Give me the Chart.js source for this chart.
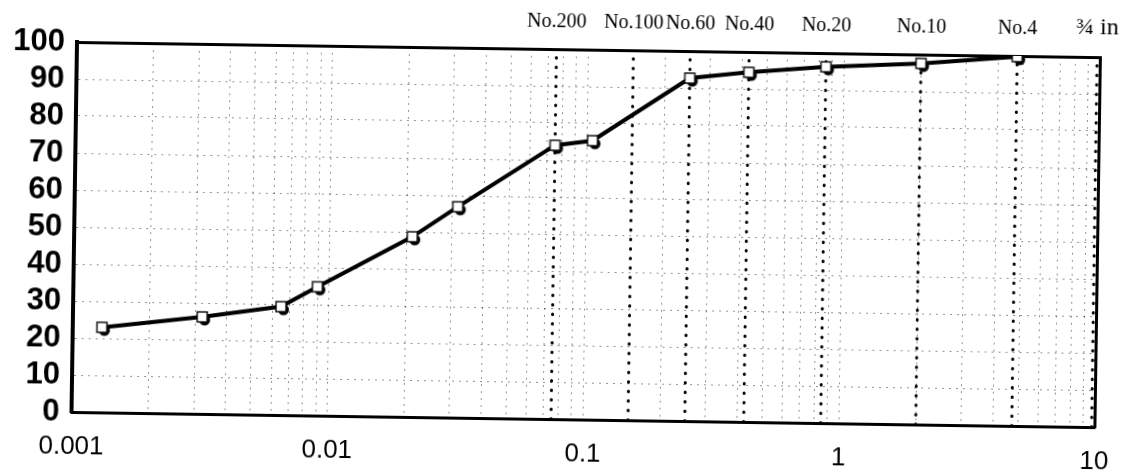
<!DOCTYPE html>
<html>
<head>
<meta charset="utf-8">
<script src="https://cdn.jsdelivr.net/npm/chart.js@4.4.0/dist/chart.umd.min.js"></script>
<style>
  html, body { margin: 0; padding: 0; background: #fff; overflow: hidden; }
  #wrap { width: 1136px; height: 472px; }
  /* the scanned sheet sits a little crooked */
  #grainChart { transform: rotate(0.85deg); transform-origin: 77px 42px; }
</style>
</head>
<body>
<div id="wrap"><canvas id="grainChart" width="1136" height="472"></canvas></div>
<script>
// grain size (mm) and percent finer
const grainSize = [0.0013, 0.0032, 0.0065, 0.0090, 0.021, 0.0315, 0.075, 0.105, 0.25, 0.425, 0.85, 2.0, 4.75];
const percentFiner = [23, 26.2, 29.3, 34.8, 48.7, 57, 74, 75.4, 92.7, 94.5, 96.3, 97.6, 99.8];

// sieve marks along the top
const sieveSizes = [0.075, 0.15, 0.25, 0.425, 0.85, 2.0, 4.75, 9.75];
const sieveNames = ['No.200', 'No.100', 'No.60', 'No.40', 'No.20', 'No.10', 'No.4', '\u00BE in'];

const decadeTicks = [0.001, 0.01, 0.1, 1, 10];
const decadeLabels = ['0.001', '0.01', '0.1', '1', '10'];
const percentTicks = [0, 10, 20, 30, 40, 50, 60, 70, 80, 90, 100];

// minor log grid 1..9 per decade
const gridTicks = [];
for (let d = 0; d < decadeTicks.length - 1; d++) {
    for (let m = 1; m < 10; m++) gridTicks.push(+(decadeTicks[d] * m).toPrecision(3));
}
gridTicks.push(10);

function makeMarker() {
    const c = document.createElement('canvas');
    c.width = 24; c.height = 24;
    const g = c.getContext('2d');
    g.fillStyle = '#000';
    g.beginPath(); g.arc(14.5, 15, 5.5, 0, Math.PI * 2); g.fill();
    g.fillStyle = '#fff';
    g.fillRect(7, 7, 10, 10);
    g.strokeStyle = '#000'; g.lineWidth = 1.4;
    g.strokeRect(7, 7, 10, 10);
    return c;
}

const gridColor = 'rgba(0,0,0,0.42)';

const sieveSets = sieveSizes.map(s => ({
    data: [{ x: s, y: 0 }, { x: s, y: 100 }],
    showLine: true,
    borderColor: '#000',
    borderWidth: 3,
    borderDash: [0.5, 9],
    borderCapStyle: 'round',
    pointRadius: 0
}));

new Chart(document.getElementById('grainChart'), {
    type: 'scatter',
    data: {
        datasets: [{
            data: grainSize.map((x, i) => ({ x: x, y: percentFiner[i] })),
            showLine: true,
            borderColor: '#000',
            borderWidth: 4,
            pointStyle: makeMarker(),
            pointRadius: 6
        }, ...sieveSets]
    },
    options: {
        responsive: false,
        animation: false,
        layout: { padding: { left: 0, top: 0, right: 36, bottom: 0 } },
        plugins: { legend: { display: false }, tooltip: { enabled: false } },
        scales: {
            x: {
                type: 'logarithmic', position: 'bottom', min: 0.001, max: 10,
                afterBuildTicks: s => { s.ticks = gridTicks.map(v => ({ value: v })); },
                afterFit: s => { s.height = 60; },
                grid: { color: gridColor, lineWidth: 1, drawTicks: false },
                border: { display: true, color: '#000', width: 3, dash: [2, 5] },
                ticks: {
                    autoSkip: false, maxRotation: 0, minRotation: 0, padding: 19, color: '#000',
                    font: { family: 'Liberation Sans', size: 26 },
                    callback: v => { const i = decadeTicks.indexOf(v); return i < 0 ? '' : decadeLabels[i]; }
                }
            },
            xTop: {
                type: 'logarithmic', position: 'top', min: 0.001, max: 10,
                afterBuildTicks: s => { s.ticks = sieveSizes.map(v => ({ value: v })); },
                afterFit: s => { s.height = 42; },
                grid: { drawOnChartArea: false, drawTicks: false },
                border: { display: true, color: '#000', width: 3 },
                ticks: {
                    autoSkip: false, maxRotation: 0, minRotation: 0, padding: 15, color: '#000',
                    font: c => ({ family: 'Liberation Serif', size: c.index === sieveNames.length - 1 ? 24 : 20 }),
                    callback: (v, i) => sieveNames[i]
                }
            },
            y: {
                min: 0, max: 100,
                afterBuildTicks: s => { s.ticks = percentTicks.map(v => ({ value: v })); },
                afterFit: s => { s.width = 77; },
                grid: { color: gridColor, lineWidth: 1, drawTicks: false },
                border: { display: true, color: '#000', width: 4, dash: [2, 5] },
                ticks: {
                    autoSkip: false, padding: 12, color: '#000',
                    font: { family: 'Liberation Sans', size: 31, weight: 'bold' }
                }
            },
            yRight: {
                position: 'right', min: 0, max: 100,
                afterFit: s => { s.width = 0; },
                ticks: { display: false },
                grid: { drawOnChartArea: false, drawTicks: false },
                border: { display: true, color: '#000', width: 3 }
            }
        }
    }
});
</script>
</body>
</html>
